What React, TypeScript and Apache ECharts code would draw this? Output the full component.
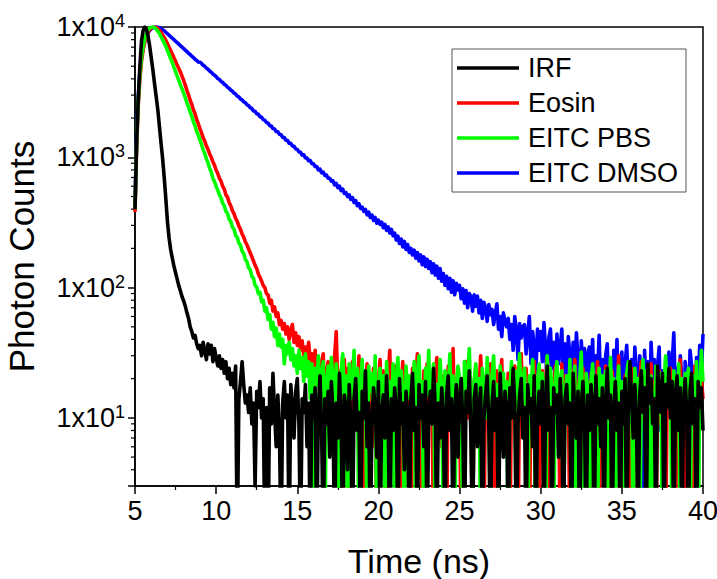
import React, { useEffect, useRef } from "react";
import * as echarts from "echarts";

const FONT = '"Liberation Sans", Arial, Helvetica, sans-serif';

// time axis: channels from 5.0 ns, 0.1 ns apart
const TIME_START = 5;
const TIME_STEP = 0.1;

const X_TICK_LABELS = [5, 10, 15, 20, 25, 30, 35, 40];
const Y_MINOR_TICKS = [4, 5, 6, 7, 8, 9, 20, 30, 40, 50, 60, 70, 80, 90, 200, 300, 400, 500, 600, 700, 800, 900, 2000, 3000, 4000, 5000, 6000, 7000, 8000, 9000];

const LEGEND_NAMES = ["IRF", "Eosin", "EITC PBS", "EITC DMSO"];

// photon counts (values of 1 stand for empty channels, below the axis floor)
const IRF = [
  400, 1300, 2800, 5000, 7800, 9400, 10000, 9600, 8600, 7200,
  5800, 4700, 3700, 2950, 2350, 1750, 1300, 980, 700, 480,
  320, 240, 195, 168, 146, 130, 116, 103, 94, 85,
  79, 72, 64, 58, 50, 46, 41, 43, 37, 34,
  36, 30, 38, 33, 28, 37, 31, 36, 27, 34,
  29, 25, 30, 24, 28, 22, 27, 20, 24, 18,
  22, 17, 25, 1, 14, 19, 27, 18, 13, 15,
  11, 17, 9, 13, 3, 16, 12, 19, 10, 14,
  1, 12, 1, 17, 9, 22, 11, 6, 15, 8,
  1, 13, 19, 10, 15, 1, 18, 12, 7, 16,
  20, 9, 1, 14, 11, 18, 6, 13, 1, 15,
  10, 17, 1, 12, 21, 8, 1, 14, 9, 16,
  5, 19, 11, 1, 13, 7, 22, 10, 1, 15,
  12, 4, 18, 9, 1, 14, 20, 8, 11, 1,
  16, 10, 23, 6, 13, 1, 9, 17, 12, 5,
  19, 1, 11, 15, 7, 21, 10, 1, 14, 8,
  17, 12, 1, 20, 9, 13, 4, 16, 11, 1,
  14, 22, 8, 12, 1, 18, 10, 15, 6, 19,
  1, 11, 16, 9, 24, 12, 1, 13, 7, 17,
  10, 1, 15, 21, 8, 14, 1, 11, 18, 5,
  13, 20, 9, 1, 16, 11, 23, 7, 1, 14,
  18, 6, 12, 17, 1, 10, 15, 21, 9, 1,
  13, 19, 8, 14, 1, 22, 11, 5, 16, 12,
  1, 17, 10, 24, 13, 1, 9, 15, 20, 7,
  12, 1, 18, 11, 14, 6, 21, 1, 10, 16,
  9, 19, 1, 13, 25, 8, 12, 1, 17, 11,
  15, 5, 20, 10, 1, 14, 18, 9, 13, 1,
  22, 11, 7, 16, 1, 12, 19, 10, 1, 15,
  8, 18, 13, 1, 21, 9, 14, 6, 17, 1,
  12, 24, 10, 15, 1, 11, 19, 8, 13, 1,
  16, 9, 20, 1, 12, 27, 14, 7, 18, 10,
  1, 15, 23, 11, 17, 1, 26, 13, 20, 9,
  14, 1, 25, 16, 11, 22, 1, 18, 12, 24,
  10, 19, 1, 15, 21, 8, 17, 1, 13, 20,
  11, 1, 16, 22, 9, 14, 1, 19, 12, 17,
  8,
];

const EOSIN = [
  380, 1200, 2500, 4000, 5400, 6700, 7700, 8500, 9100, 9550,
  9800, 9950, 10000, 9950, 9750, 9450, 9100, 8700, 8300, 7900,
  7450, 7000, 6600, 6200, 5800, 5450, 5100, 4800, 4500, 4200,
  3880, 3580, 3250, 3010, 2740, 2550, 2310, 2160, 1950, 1810,
  1660, 1540, 1410, 1330, 1220, 1150, 1060, 1000, 920, 870,
  795, 750, 690, 655, 600, 570, 515, 495, 450, 425,
  390, 370, 340, 322, 296, 280, 258, 244, 224, 213,
  198, 185, 172, 160, 148, 140, 127, 120, 112, 104,
  100, 90, 88, 76, 80, 66, 71, 60, 64, 52,
  56, 48, 53, 44, 50, 40, 47, 52, 38, 45,
  36, 42, 33, 39, 30, 35, 28, 38, 27, 31,
  24, 33, 19, 29, 14, 26, 31, 12, 22, 27,
  18, 25, 9, 30, 46, 16, 23, 1, 20, 28,
  13, 24, 1, 19, 27, 8, 21, 15, 30, 11,
  22, 1, 17, 26, 12, 20, 6, 24, 16, 1,
  19, 28, 10, 23, 14, 1, 21, 33, 9, 17,
  25, 12, 20, 1, 16, 27, 11, 22, 7, 18,
  1, 24, 15, 20, 31, 9, 17, 1, 23, 13,
  26, 10, 19, 14, 1, 22, 29, 12, 18, 6,
  21, 16, 1, 25, 11, 19, 34, 8, 15, 23,
  12, 1, 20, 17, 27, 10, 22, 14, 1, 19,
  24, 9, 16, 30, 13, 1, 21, 18, 11, 26,
  15, 20, 1, 23, 10, 17, 28, 6, 19, 13,
  22, 1, 18, 12, 25, 16, 1, 20, 31, 9,
  17, 24, 11, 1, 19, 14, 27, 10, 21, 1,
  16, 23, 8, 18, 29, 12, 1, 20, 15, 25,
  11, 19, 1, 26, 14, 21, 9, 17, 1, 23,
  13, 28, 16, 1, 20, 11, 24, 15, 7, 19,
  1, 22, 14, 18, 10, 27, 1, 16, 21, 12,
  25, 9, 17, 1, 23, 14, 19, 11, 30, 1,
  18, 13, 21, 8, 16, 1, 24, 12, 19, 15,
  1, 20, 27, 10, 17, 22, 1, 14, 26, 11,
  19, 1, 16, 23, 9, 18, 12, 1, 21, 14,
  24, 10, 17, 1, 20, 13, 28, 8, 16, 1,
  15, 22, 11, 19, 1, 25, 13, 18, 9, 20,
  14,
];

const EITC_PBS = [
  400, 1300, 2700, 4300, 5800, 7100, 8100, 8900, 9450, 9800,
  9950, 10000, 9900, 9650, 9300, 8900, 8450, 8000, 7550, 7100,
  6600, 6150, 5700, 5300, 4900, 4550, 4200, 3900, 3600, 3350,
  3100, 2860, 2620, 2430, 2220, 2060, 1870, 1740, 1580, 1480,
  1360, 1255, 1140, 1070, 970, 910, 820, 770, 690, 650,
  600, 560, 515, 488, 445, 425, 385, 370, 335, 322,
  292, 280, 252, 243, 220, 211, 190, 183, 164, 158,
  142, 137, 122, 118, 104, 101, 90, 92, 78, 80,
  66, 70, 57, 62, 48, 54, 42, 49, 36, 44,
  35, 40, 26, 36, 31, 38, 28, 34, 25, 30,
  22, 33, 24, 29, 19, 31, 21, 27, 14, 26,
  1, 24, 18, 30, 11, 22, 27, 1, 19, 25,
  13, 29, 20, 8, 26, 17, 1, 23, 31, 15,
  21, 1, 26, 14, 19, 33, 10, 24, 1, 18,
  28, 12, 20, 1, 25, 16, 22, 9, 30, 1,
  17, 24, 13, 21, 1, 27, 15, 19, 7, 26,
  1, 20, 29, 11, 23, 16, 1, 25, 14, 21,
  18, 10, 27, 1, 22, 30, 13, 19, 1, 24,
  15, 33, 9, 20, 26, 1, 18, 12, 28, 16,
  1, 23, 19, 14, 31, 8, 21, 1, 17, 25,
  20, 11, 1, 27, 16, 22, 34, 13, 1, 19,
  26, 14, 20, 1, 24, 17, 10, 29, 15, 1,
  21, 30, 12, 18, 1, 25, 14, 22, 9, 19,
  1, 16, 27, 11, 23, 1, 20, 31, 13, 18,
  24, 8, 1, 21, 15, 28, 12, 1, 19, 26,
  14, 22, 17, 1, 30, 10, 24, 16, 1, 20,
  27, 13, 19, 23, 1, 15, 21, 11, 28, 1,
  17, 25, 1, 14, 20, 32, 9, 1, 22, 16,
  1, 19, 26, 12, 18, 1, 24, 15, 21, 10,
  23, 1, 17, 29, 13, 20, 1, 16, 25, 11,
  19, 14, 1, 22, 27, 10, 18, 1, 24, 15,
  20, 1, 16, 28, 12, 23, 17, 1, 21, 13,
  1, 25, 18, 11, 22, 1, 19, 30, 14, 20,
  16, 1, 23, 17, 9, 26, 1, 20, 13, 22,
  18, 24, 1, 15, 21, 11, 27, 1, 17, 33,
  19,
];

const EITC_DMSO = [
  420, 1500, 2900, 4500, 5800, 6900, 7800, 8500, 9000, 9400,
  9700, 9880, 9980, 10000, 9980, 9900, 9750, 9550, 9350, 9100,
  8880, 8650, 8420, 8200, 7990, 7780, 7580, 7380, 7190, 7000,
  6830, 6620, 6490, 6280, 6150, 5960, 5840, 5660, 5540, 5380,
  5370, 5250, 5090, 4990, 4830, 4740, 4590, 4500, 4350, 4270,
  4160, 4030, 3960, 3820, 3760, 3630, 3570, 3450, 3390, 3280,
  3210, 3110, 3060, 2950, 2910, 2800, 2760, 2660, 2630, 2530,
  2490, 2400, 2370, 2270, 2250, 2160, 2140, 2050, 2030, 1950,
  1920, 1850, 1830, 1750, 1740, 1660, 1650, 1580, 1570, 1500,
  1490, 1420, 1420, 1350, 1345, 1280, 1280, 1220, 1215, 1160,
  1150, 1100, 1095, 1040, 1045, 990, 985, 940, 945, 895,
  890, 850, 850, 800, 810, 760, 770, 725, 730, 690,
  690, 655, 660, 615, 630, 585, 600, 555, 570, 528,
  535, 500, 515, 475, 490, 450, 465, 425, 440, 405,
  415, 385, 398, 362, 380, 345, 360, 328, 345, 312,
  330, 305, 318, 288, 305, 275, 292, 262, 280, 250,
  262, 232, 248, 218, 236, 205, 226, 196, 214, 186,
  200, 178, 194, 168, 186, 160, 178, 150, 172, 145,
  165, 140, 158, 130, 152, 125, 146, 118, 140, 112,
  128, 104, 122, 98, 118, 92, 113, 88, 108, 96,
  104, 82, 98, 76, 95, 70, 90, 85, 66, 88,
  72, 86, 64, 80, 58, 77, 70, 55, 74, 62,
  68, 52, 63, 75, 48, 60, 42, 64, 55, 50,
  58, 40, 52, 33, 60, 47, 28, 53, 41, 50,
  52, 31, 44, 60, 26, 46, 36, 22, 48, 33,
  46, 27, 54, 34, 18, 41, 48, 24, 38, 16,
  44, 26, 35, 48, 19, 37, 12, 42, 30, 23,
  38, 20, 45, 28, 11, 39, 24, 34, 8, 31,
  35, 18, 40, 12, 30, 22, 43, 15, 28, 6,
  30, 37, 14, 27, 1, 33, 20, 40, 11, 26,
  32, 9, 26, 36, 17, 5, 28, 14, 35, 21,
  12, 30, 22, 1, 33, 16, 27, 7, 38, 20,
  28, 11, 25, 35, 8, 23, 1, 29, 17, 32,
  10, 26, 45, 15, 24, 6, 30, 19, 1, 27,
  21, 9, 33, 25, 13, 1, 29, 18, 36, 22,
  44,
];

const toPairs = (vals: number[]) =>
  vals.map((v, i) => [Number((TIME_START + i * TIME_STEP).toFixed(2)), v]);

export default function App() {
  const ref = useRef<HTMLDivElement>(null);

  useEffect(() => {
    if (!ref.current) return;
    const chart = echarts.init(ref.current, undefined, { renderer: "svg" });

    const lineSeries = (name: string, data: number[], color: string) => ({
      name,
      type: "line",
      data: toPairs(data),
      showSymbol: false,
      symbol: "none",
      clip: true,
      color,
      lineStyle: { color, width: 3.6, join: "round" },
      emphasis: { disabled: true },
    });

    const option: any = {
      animation: false,
      textStyle: { fontFamily: FONT },
      grid: {
        left: 135,
        right: 14,
        top: 27,
        bottom: 93,
        outerBoundsMode: "none",
        containLabel: false,
        show: true,
        borderColor: "#000",
        borderWidth: 1.5,
        backgroundColor: "transparent",
      },
      legend: {
        data: LEGEND_NAMES,
        orient: "vertical",
        left: 452,
        top: 49,
        icon: "rect",
        itemWidth: 62,
        itemHeight: 3.5,
        itemGap: 7,
        padding: [5, 8, 5, 5],
        borderColor: "#555",
        borderWidth: 1,
        borderRadius: 0,
        backgroundColor: "#fff",
        textStyle: {
          fontSize: 27,
          lineHeight: 28,
          color: "#000",
          fontFamily: FONT,
          padding: [0, 0, 0, 4],
        },
      },
      xAxis: {
        type: "value",
        min: 5,
        max: 40,
        interval: 5,
        name: "Time (ns)",
        nameLocation: "middle",
        nameGap: 58,
        nameTextStyle: { fontSize: 34, color: "#000", fontFamily: FONT },
        axisLine: { lineStyle: { color: "#000", width: 1.5 } },
        axisTick: { length: 8, lineStyle: { color: "#000", width: 1.5 } },
        minorTick: { show: true, splitNumber: 2, length: 4, lineStyle: { color: "#000", width: 1.2 } },
        splitLine: { show: false },
        axisLabel: {
          fontSize: 27,
          color: "#000",
          margin: 11,
          fontFamily: FONT,
          formatter: (v: number) => (X_TICK_LABELS.includes(v) ? String(v) : ""),
        },
      },
      yAxis: {
        type: "log",
        logBase: 10,
        min: 3,
        max: 10000,
        name: "Photon Counts",
        nameLocation: "middle",
        nameGap: 96,
        nameTextStyle: { fontSize: 35, color: "#000", fontFamily: FONT },
        axisLine: { lineStyle: { color: "#000", width: 1.5 } },
        axisTick: { length: 7, lineStyle: { color: "#000", width: 1.5 } },
        splitLine: { show: false },
        axisLabel: {
          margin: 10,
          color: "#000",
          formatter: (v: number) => {
            const e = Math.log10(v);
            const r = Math.round(e);
            if (Math.abs(e - r) > 1e-6) return "";
            return `{m|1x10}{s|${r}}`;
          },
          rich: {
            m: { fontSize: 27, lineHeight: 30, color: "#000", fontFamily: FONT },
            s: { fontSize: 18, lineHeight: 19, verticalAlign: "top", color: "#000", fontFamily: FONT },
          },
        },
      },
      series: [
        lineSeries("EITC DMSO", EITC_DMSO, "#0000ff"),
        lineSeries("Eosin", EOSIN, "#ff0000"),
        lineSeries("EITC PBS", EITC_PBS, "#00ff00"),
        lineSeries("IRF", IRF, "#000000"),
        {
          type: "custom",
          name: "minorTicks",
          silent: true,
          clip: false,
          data: Y_MINOR_TICKS.map((v) => [TIME_START, v]),
          encode: { x: 0, y: 1 },
          renderItem: (_params: any, api: any) => {
            const p = api.coord([api.value(0), api.value(1)]);
            return {
              type: "line",
              shape: { x1: p[0] - 4, y1: p[1], x2: p[0], y2: p[1] },
              style: { stroke: "#000", lineWidth: 1.2 },
            };
          },
        },
      ],
    };

    chart.setOption(option);
    return () => chart.dispose();
  }, []);

  return (
    <div
      ref={ref}
      style={{ position: "fixed", left: 0, top: 0, width: 717, height: 579, background: "#fff" }}
    />
  );
}
